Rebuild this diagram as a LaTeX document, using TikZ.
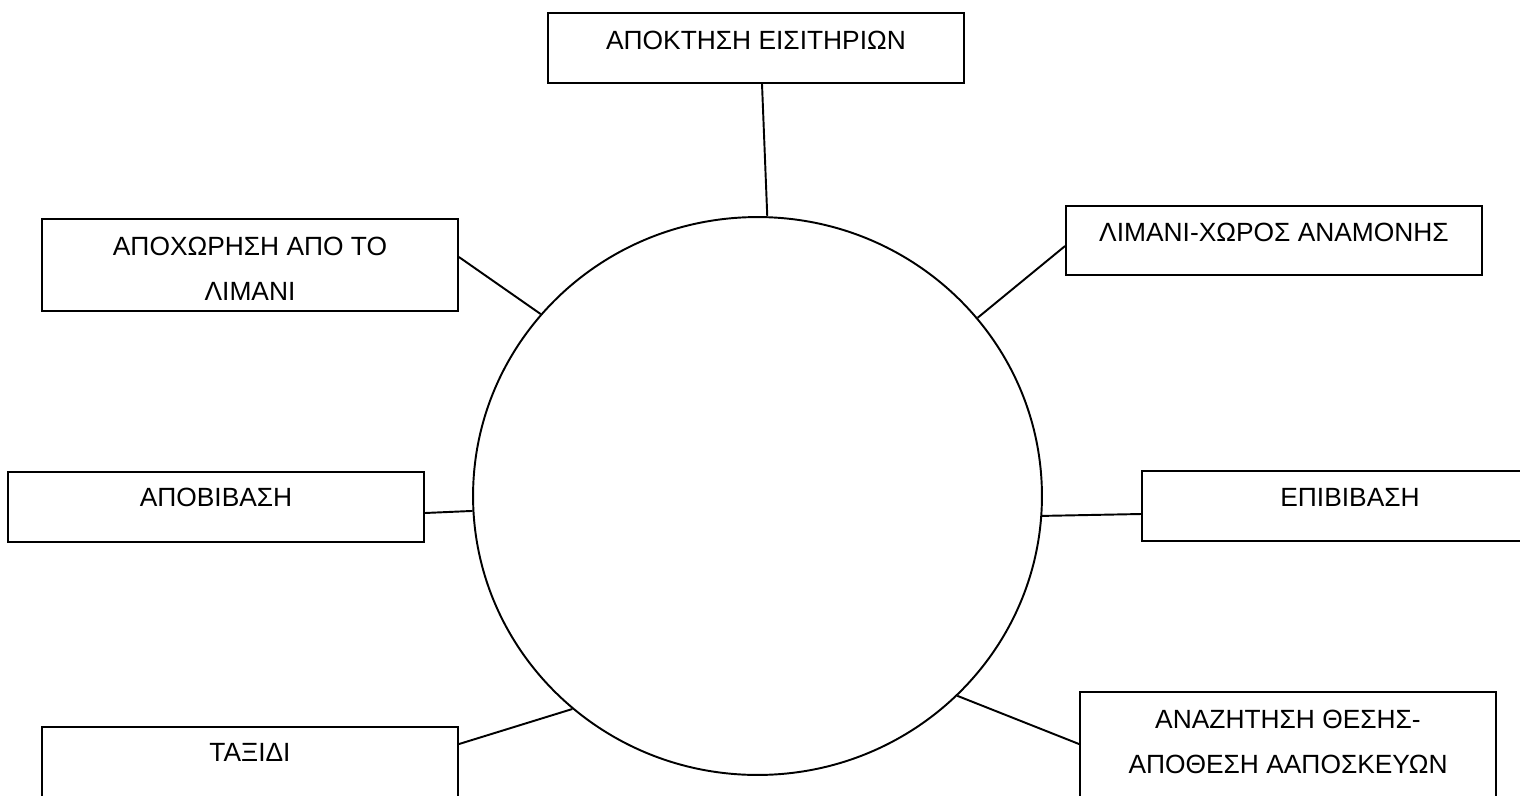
\documentclass[tikz,border=0pt]{standalone}
\usepackage{fontspec}
\setmainfont{Liberation Sans}
\usetikzlibrary{shapes.geometric}
\begin{document}
\begin{tikzpicture}[x=0.02cm,y=-0.02cm,
  stagebox/.style={draw,line width=1.1pt,rectangle,minimum width=8.32cm,inner sep=0pt},
  stagetext/.style={anchor=north,inner sep=0pt,align=center,font=\fontsize{15}{25.6}\selectfont},
  link/.style={line width=1.1pt}]
  \useasboundingbox (0,0) rectangle (1520,795);
  \clip (0,0) rectangle (1520,795);
  % central ring
  \node[draw,line width=1.1pt,ellipse,minimum width=11.38cm,minimum height=11.16cm,inner sep=0pt] (c) at (757.5,496) {};
  % stage boxes
  \node[stagebox,minimum height=1.4cm]  (tk) at (756,48)    {};
  \node[stagebox,minimum height=1.84cm] (lv) at (250,265)   {};
  \node[stagebox,minimum height=1.38cm] (wt) at (1274,240.5) {};
  \node[stagebox,minimum height=1.4cm]  (dm) at (216,507)   {};
  \node[stagebox,minimum height=1.4cm]  (bd) at (1350,506)  {};
  \node[stagebox,minimum height=1.84cm] (tr) at (250,773)   {};
  \node[stagebox,minimum height=2.2cm]  (st) at (1288,747)  {};
  % stage captions
  \node[stagetext] (tkt) at ([yshift=-0.37cm]tk.north) {ΑΠΟΚΤΗΣΗ ΕΙΣΙΤΗΡΙΩΝ};
  \node[stagetext] (lvt) at ([yshift=-0.37cm]lv.north) {ΑΠΟΧΩΡΗΣΗ ΑΠΟ ΤΟ\\ΛΙΜΑΝΙ};
  \node[stagetext] (wtt) at ([yshift=-0.36cm]wt.north) {ΛΙΜΑΝΙ-ΧΩΡΟΣ ΑΝΑΜΟΝΗΣ};
  \node[stagetext] (dmt) at ([yshift=-0.34cm]dm.north) {ΑΠΟΒΙΒΑΣΗ};
  \node[stagetext] (bdt) at ([yshift=-0.35cm]bd.north) {ΕΠΙΒΙΒΑΣΗ};
  \node[stagetext] (trt) at ([yshift=-0.34cm]tr.north) {ΤΑΞΙΔΙ};
  \node[stagetext] (stt) at ([yshift=-0.37cm]st.north) {ΑΝΑΖΗΤΗΣΗ ΘΕΣΗΣ-\\ΑΠΟΘΕΣΗ ΑΑΠΟΣΚΕΥΩΝ};
  % connectors to the ring
  \draw[link] ([xshift=0.12cm]tk.south) -- (c.88.2);
  \draw[link] ([yshift=0.16cm]lv.east) -- (c.140.3);
  \draw[link] ([yshift=-0.11cm]wt.west) -- (c.39.9);
  \draw[link] ([yshift=-0.12cm]dm.east) -- (c.183.4);
  \draw[link] ([yshift=-0.16cm]bd.west) -- (c.-4.4);
  \draw[link] ([yshift=-0.36cm]tr.north east) -- (c.229.2);
  \draw[link] ([yshift=-1.06cm]st.north west) -- (c.-45.2);
\end{tikzpicture}
\end{document}
